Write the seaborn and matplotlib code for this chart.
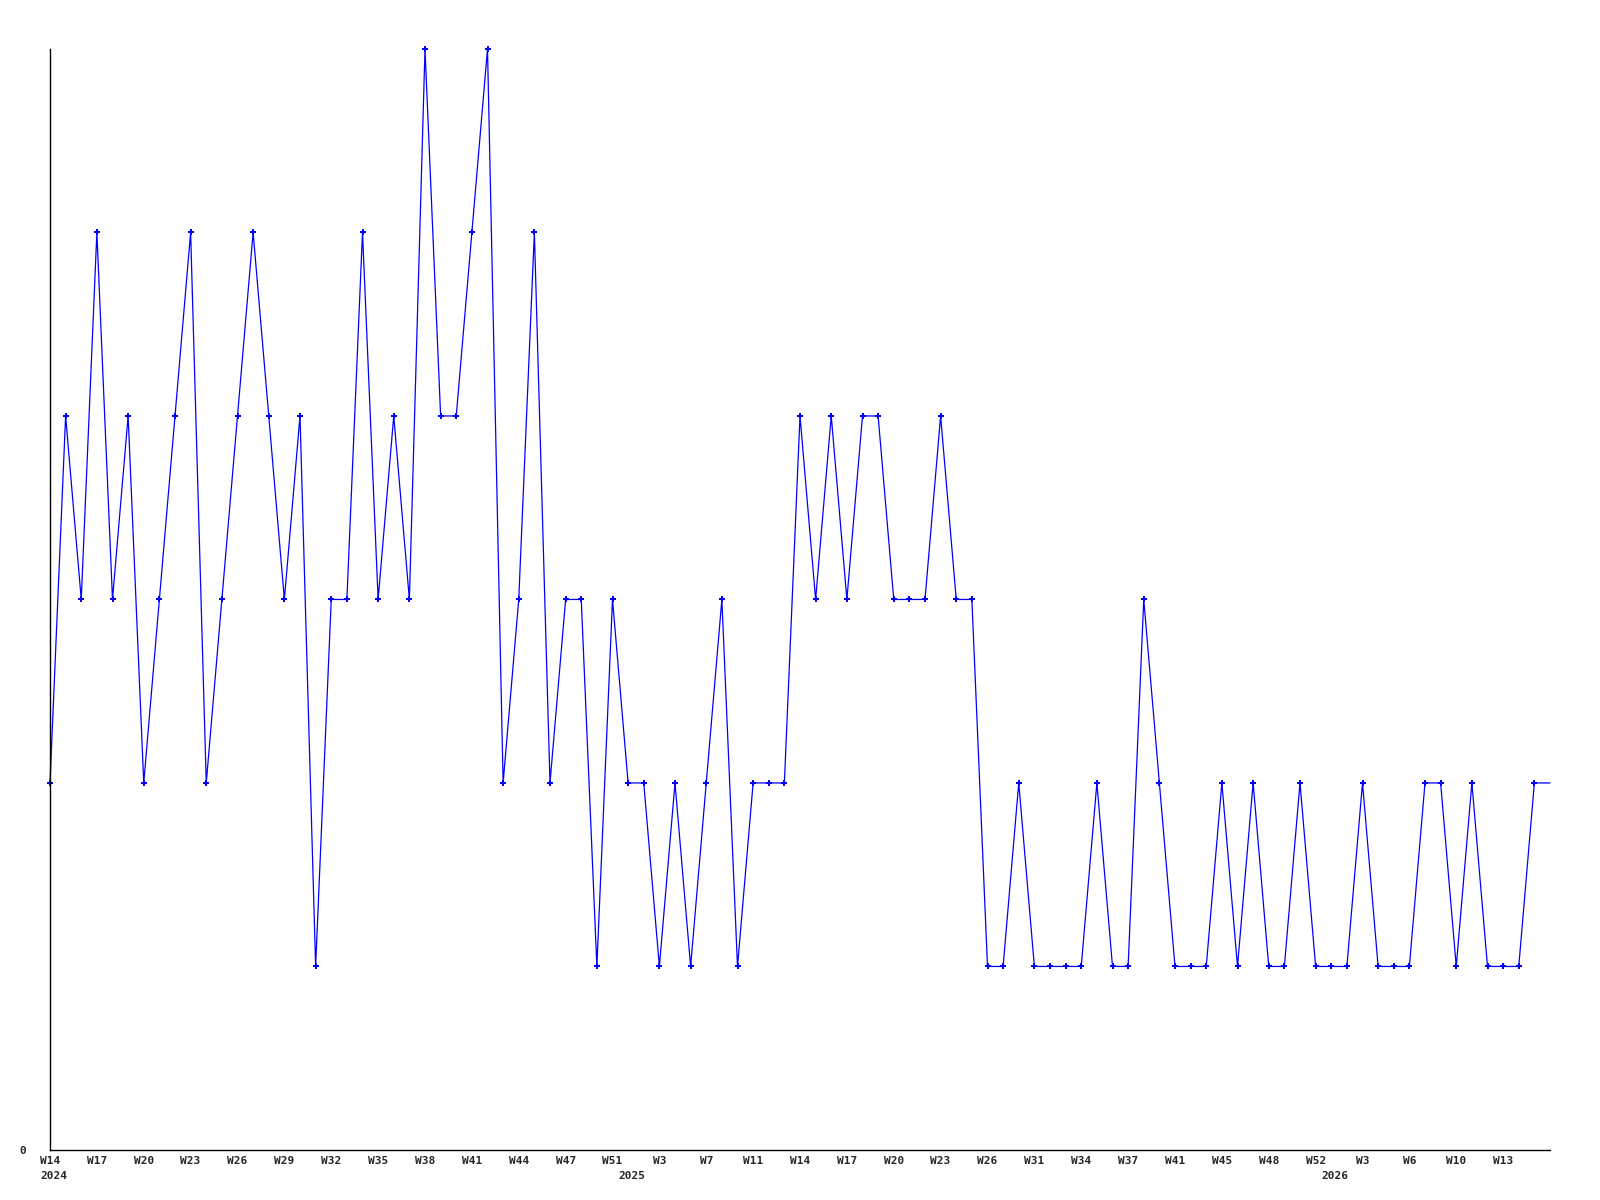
import matplotlib
matplotlib.use('Agg')
import matplotlib.pyplot as plt
import seaborn as sns
import pandas as pd

# weekly counts, one per point (last point is the running week, no marker)
values = [2, 4, 3, 5, 3, 4, 2, 3, 4, 5,
          2, 3, 4, 5, 4, 3, 4, 1, 3, 3,
          5, 3, 4, 3, 6, 4, 4, 5, 6, 2,
          3, 5, 2, 3, 3, 1, 3, 2, 2, 1,
          2, 1, 2, 3, 1, 2, 2, 2, 4, 3,
          4, 3, 4, 4, 3, 3, 3, 4, 3, 3,
          1, 1, 2, 1, 1, 1, 1, 2, 1, 1,
          3, 2, 1, 1, 1, 2, 1, 2, 1, 1,
          2, 1, 1, 1, 2, 1, 1, 1, 2, 2,
          1, 2, 1, 1, 1, 2, 2]

# every third point gets a week label
tick_labels = ['W14', 'W17', 'W20', 'W23', 'W26', 'W29', 'W32', 'W35', 'W38', 'W41',
               'W44', 'W47', 'W51', 'W3', 'W7', 'W11', 'W14', 'W17', 'W20', 'W23',
               'W26', 'W31', 'W34', 'W37', 'W41', 'W45', 'W48', 'W52', 'W3', 'W6',
               'W10', 'W13']

years = ['2024', '2025', '2026']
year_start = [0, 37, 82]

df = pd.DataFrame({'idx': range(len(values)), 'count': values})

sns.set_style('white')
plt.rcParams['font.family'] = ['DejaVu Sans Mono']

fig = plt.figure(figsize=(16, 12), dpi=100)
ax = fig.add_axes([0.03125, 0.0417, 0.9375, 0.9175])

sns.lineplot(data=df, x='idx', y='count', color='#0000ff', linewidth=0.9,
             marker='P', markersize=4.5, markeredgewidth=0,
             markevery=list(range(len(values) - 1)), clip_on=False, ax=ax)

ax.set_xlim(0, len(values) - 1)
ax.set_ylim(0, 6)
sns.despine(ax=ax, top=True, right=True)
for side in ['left', 'bottom']:
    ax.spines[side].set_color('black')
    ax.spines[side].set_linewidth(1.0)

ax.set_xticks(range(0, len(tick_labels) * 3, 3))
ax.set_xticklabels(tick_labels)
ax.set_yticks([0])
ax.set_yticklabels(['0'])
ax.tick_params(axis='both', length=0, labelsize=8)
ax.tick_params(axis='x', pad=4)
ax.tick_params(axis='y', pad=17)
for lbl in ax.get_xticklabels() + ax.get_yticklabels():
    lbl.set_fontweight('bold')
ax.set_xlabel('')
ax.set_ylabel('')

for y, pos in zip(years, year_start):
    ax.annotate(y, xy=(pos, 0), xycoords=('data', 'axes fraction'),
                xytext=(2.5, -19), textcoords='offset points',
                ha='center', va='center', fontsize=8, fontweight='bold')

fig.savefig('out.png', dpi=100)
